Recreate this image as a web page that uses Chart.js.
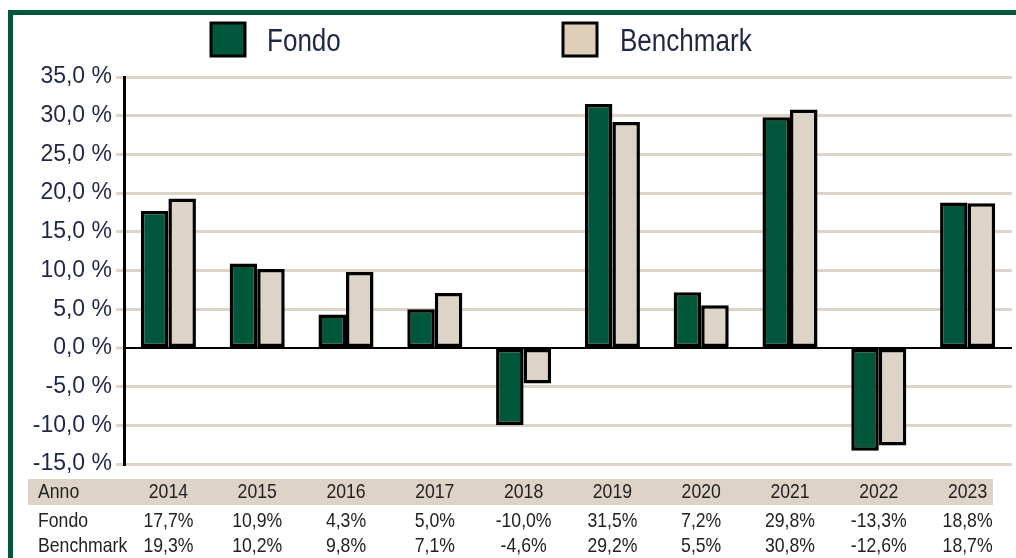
<!DOCTYPE html>
<html>
<head>
<meta charset="utf-8">
<script src="https://cdn.jsdelivr.net/npm/chart.js@4"></script>
<style>
  html, body { margin: 0; padding: 0; background: #fff; }
  #wrap { position: relative; width: 1016px; height: 558px; }
</style>
</head>
<body>
<div id="wrap"><canvas id="myChart" width="1016" height="558"></canvas></div>
<script>
const anni = ['2014', '2015', '2016', '2017', '2018', '2019', '2020', '2021', '2022', '2023'];
const fondo = [17.7, 10.9, 4.3, 5.0, -10.0, 31.5, 7.2, 29.8, -13.3, 18.8];
const benchmark = [19.3, 10.2, 9.8, 7.1, -4.6, 29.2, 5.5, 30.8, -12.6, 18.7];
const yTicks = [35, 30, 25, 20, 15, 10, 5, 0, -5, -10, -15];

const verde = '#00573c';
const beige = '#ddd3c6';
const fmt = (v) => v.toFixed(1).replace('.', ',');

// testo stretto: Liberation Sans compresso in orizzontale
function narrowText(c, text, x, y, size, align) {
  c.save();
  c.font = size + 'px "Liberation Sans", Arial, sans-serif';
  c.textBaseline = 'middle';
  c.textAlign = align;
  c.translate(x, y);
  c.scale(0.84, 1);
  c.fillText(text, 0, 0);
  c.restore();
}

// cornice verde, legenda e tabella sotto il grafico
const extras = {
  id: 'extras',
  beforeDraw(chart) {
    const c = chart.ctx;
    c.save();
    c.fillStyle = verde;
    c.fillRect(8, 10, 1008, 5);
    c.fillRect(8, 10, 5, 548);
    c.restore();
  },
  afterDraw(chart) {
    const c = chart.ctx;
    const x = chart.scales.x;
    c.save();

    // legenda
    const items = [
      { label: 'Fondo', color: verde, bx: 211, tx: 267 },
      { label: 'Benchmark', color: '#e0cfb8', bx: 563, tx: 620 }
    ];
    items.forEach((it) => {
      c.fillStyle = it.color;
      c.fillRect(it.bx, 23, 34, 33);
      c.strokeStyle = '#000';
      c.lineWidth = 3;
      c.strokeRect(it.bx, 23, 34, 33);
      c.fillStyle = '#1f2745';
      narrowText(c, it.label, it.tx, 42, 31, 'left');
    });

    // tabella
    c.fillStyle = beige;
    c.fillRect(28, 479, 965, 26);
    c.fillStyle = '#222';
    narrowText(c, 'Anno', 38, 492, 21, 'left');
    narrowText(c, 'Fondo', 38, 521, 21, 'left');
    narrowText(c, 'Benchmark', 38, 546, 21, 'left');
    anni.forEach((a, i) => {
      const px = x.getPixelForValue(i);
      narrowText(c, a, px, 492, 21, 'center');
      narrowText(c, fmt(fondo[i]) + '%', px, 521, 21, 'center');
      narrowText(c, fmt(benchmark[i]) + '%', px, 546, 21, 'center');
    });
    c.restore();
  }
};

new Chart(document.getElementById('myChart'), {
  type: 'bar',
  data: {
    labels: anni,
    datasets: [
      {
        label: 'Fondo',
        data: fondo,
        backgroundColor: verde,
        borderColor: '#000',
        borderWidth: 3.5,
        borderSkipped: false
      },
      {
        label: 'Benchmark',
        data: benchmark,
        backgroundColor: beige,
        borderColor: '#000',
        borderWidth: 3.5,
        borderSkipped: false
      }
    ]
  },
  options: {
    responsive: false,
    animation: false,
    layout: { padding: { left: 0, top: 77, right: 4, bottom: 94 } },
    datasets: { bar: { categoryPercentage: 0.62, barPercentage: 1 } },
    plugins: { legend: { display: false }, tooltip: { enabled: false } },
    scales: {
      x: { display: false },
      y: {
        min: -15,
        max: 35,
        afterBuildTicks: (s) => { s.ticks = yTicks.map((v) => ({ value: v })); },
        afterFit: (s) => { s.width = 124; },
        ticks: {
          padding: 4,
          color: '#1f2745',
          font: { family: '"Liberation Sans", Arial, sans-serif', size: 23 },
          callback: (v) => fmt(v) + ' %'
        },
        grid: {
          color: (ctx) => (ctx.tick && ctx.tick.value === 0 ? '#000' : beige),
          lineWidth: (ctx) => (ctx.tick && ctx.tick.value === 0 ? 2 : 3),
          tickColor: beige,
          tickLength: 8,
          tickWidth: 3
        },
        border: { color: '#000', width: 3 }
      }
    }
  },
  plugins: [extras]
});
</script>
</body>
</html>
